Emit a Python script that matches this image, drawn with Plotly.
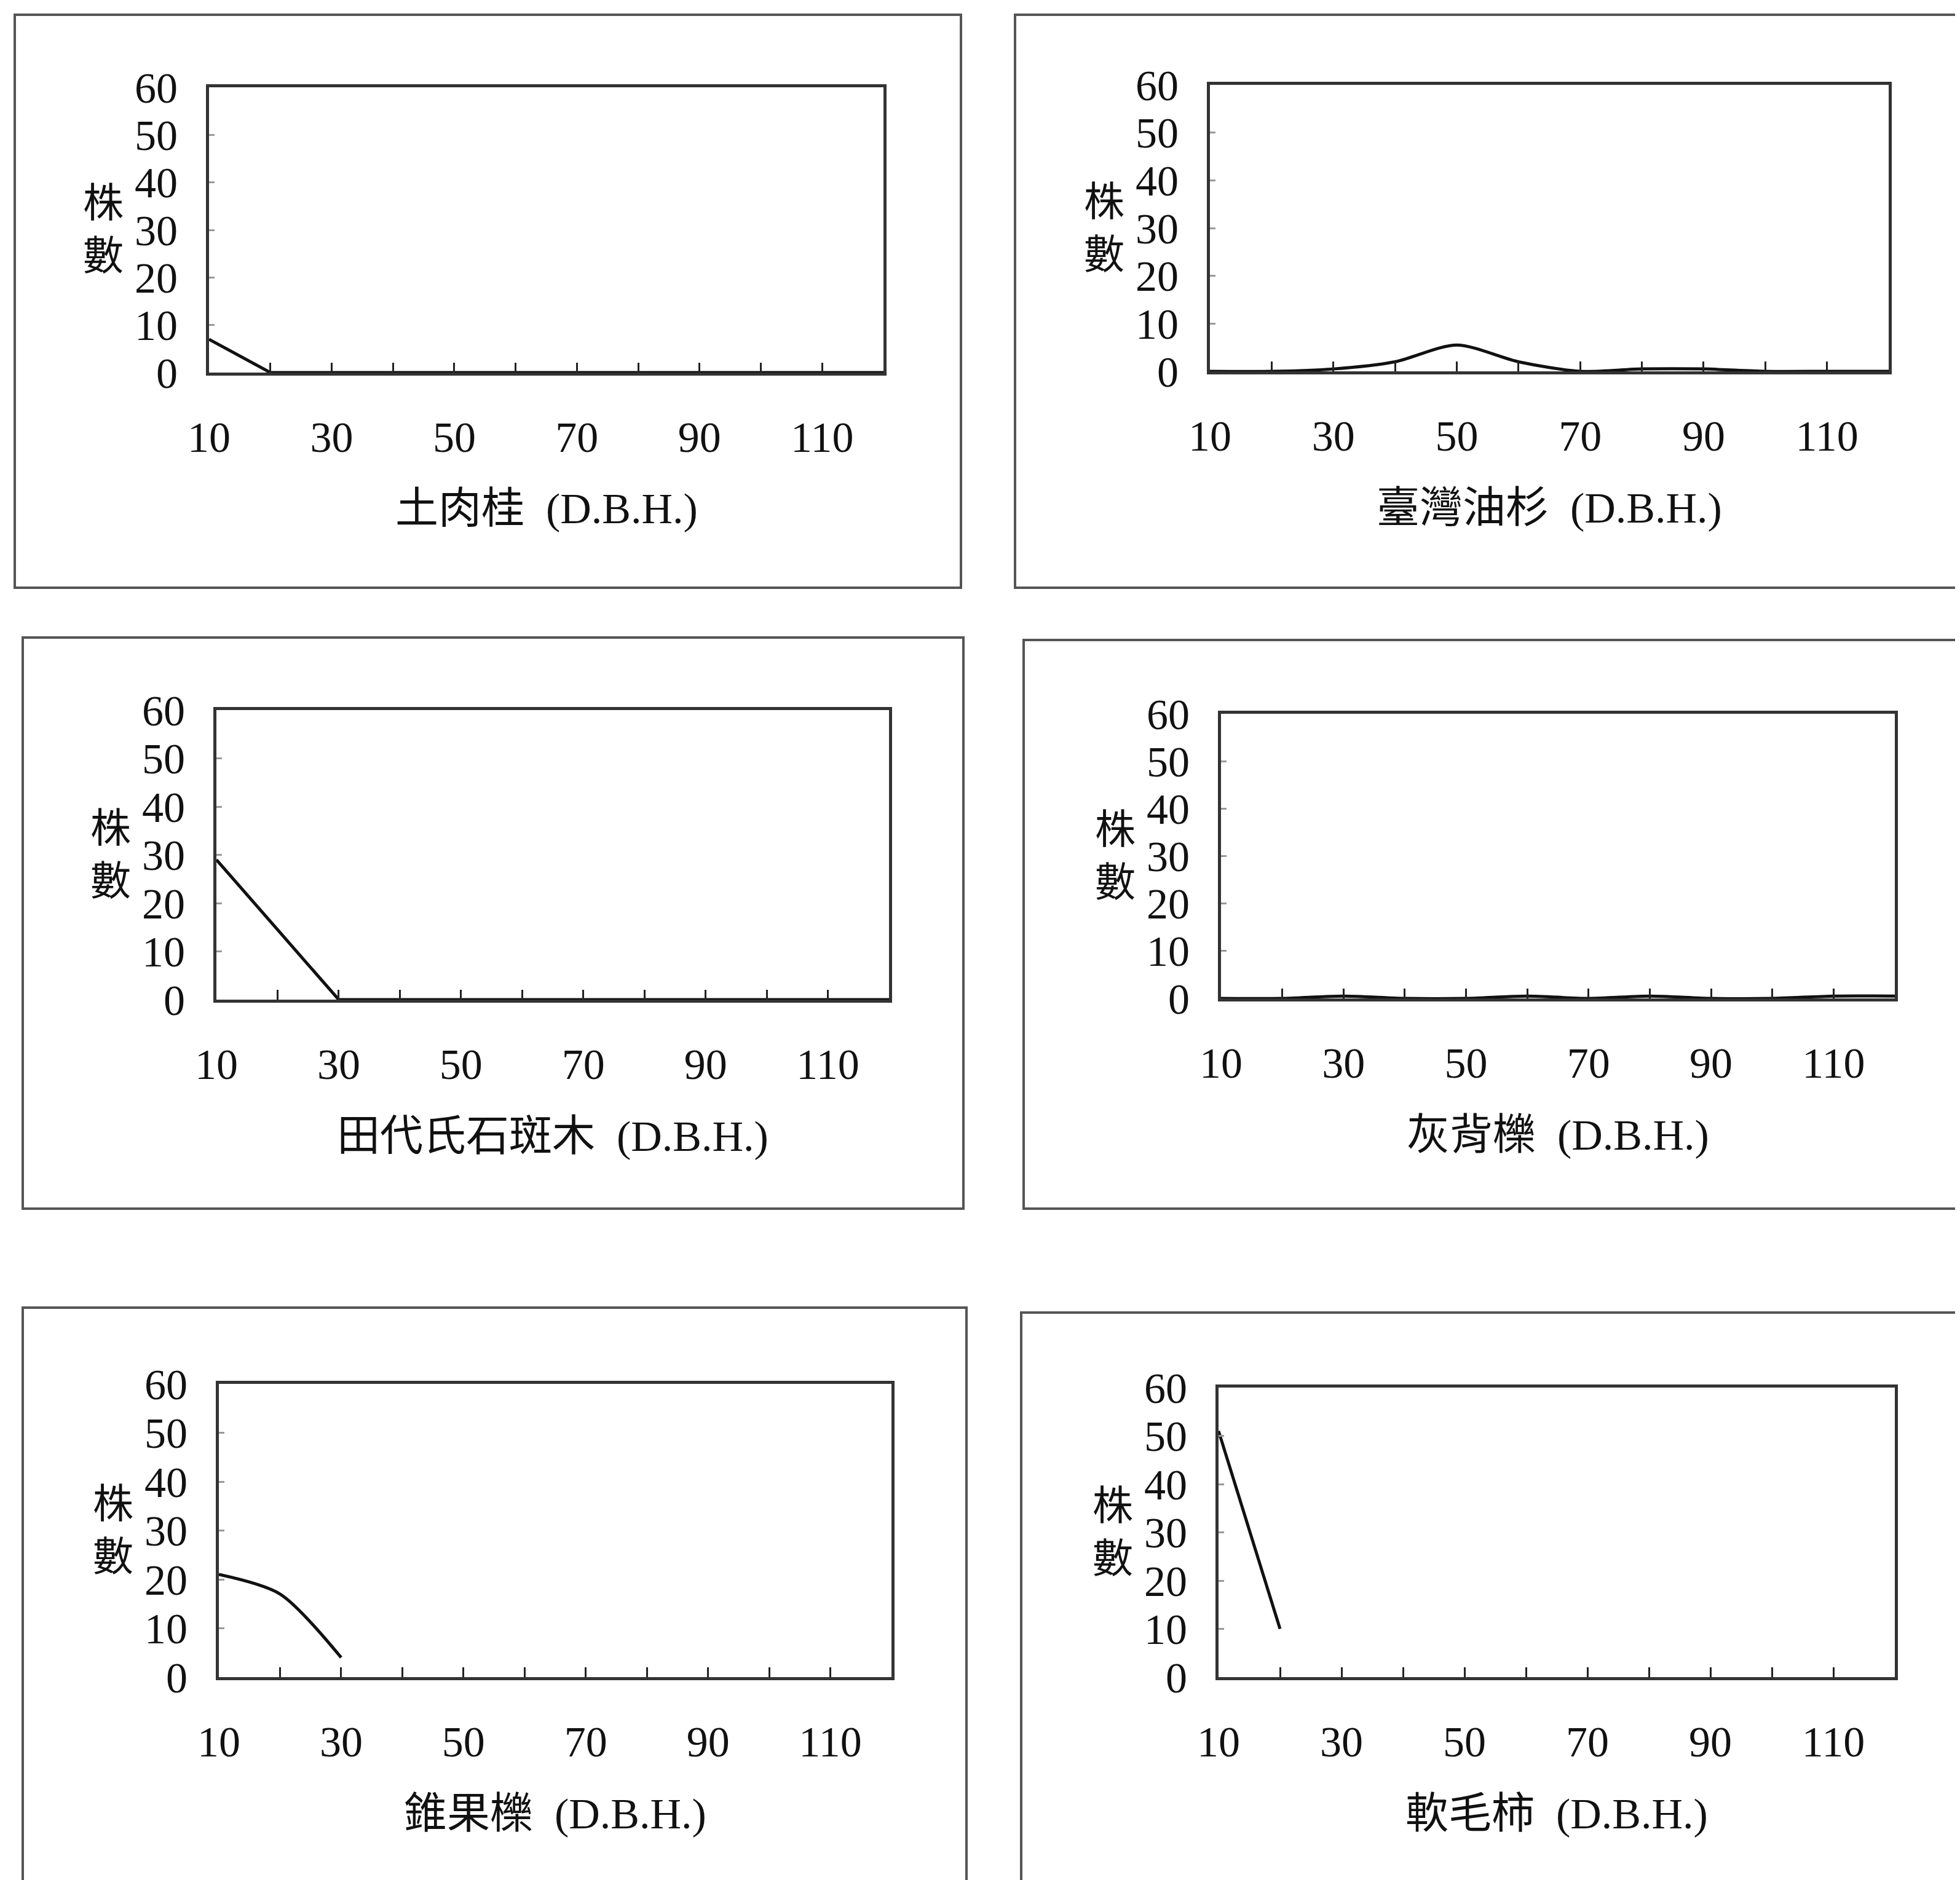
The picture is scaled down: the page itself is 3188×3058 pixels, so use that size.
import plotly.graph_objects as go

W, H = 3188, 3058
OFF = 8  # page body margin in px

# ---- data ----
dbh_classes = [10, 20, 30, 40, 50, 60, 70, 80, 90, 100, 110, 120]
x_tick_vals = [10, 20, 30, 40, 50, 60, 70, 80, 90, 100, 110]
x_tick_text = ["10", "", "30", "", "50", "", "70", "", "90", "", "110"]
y_tick_vals = [0, 10, 20, 30, 40, 50, 60]

species = ["土肉桂", "臺灣油杉", "田代氏石斑木", "灰背櫟", "錐果櫟", "軟毛柿"]
counts_tulougui = [7, 0, 0, 0, 0, 0, 0, 0, 0, 0, 0, 0]
counts_youshan = [0, 0, 0.5, 2, 5.5, 2, 0, 0.5, 0.5, 0, 0, 0]
counts_shibanmu = [29, 14.5, 0, 0, 0, 0, 0, 0, 0, 0, 0, 0]
counts_huibeili = [0, 0, 0.5, 0, 0, 0.5, 0, 0.5, 0, 0, 0.5, 0.5]
counts_zhuiguoli = [21, 17, 4]
counts_ruanmaoshi = [51, 10]
series = [counts_tulougui, counts_youshan, counts_shibanmu,
          counts_huibeili, counts_zhuiguoli, counts_ruanmaoshi]
line_shapes = ["linear", "spline", "linear", "spline", "spline", "linear"]
y_label = "株<br>數"
x_suffix = "(D.B.H.)"

# ---- layout (pixel boxes) ----
plot_boxes = [  # left, right, top, bottom in px
    (340, 1437, 142, 606),
    (1968, 3072, 138, 604),
    (352, 1446, 1155, 1626),
    (1986, 3082, 1161, 1624),
    (356, 1450, 2251, 2728),
    (1982, 3082, 2257, 2728),
]
frame_boxes = [
    (24, 1563, 24, 956),
    (1651, 3220, 24, 956),
    (37, 1567, 1037, 1966),
    (1665, 3220, 1041, 1966),
    (37, 1572, 2127, 3090),
    (1661, 3220, 2135, 3090),
]

FONT = "Liberation Serif, Noto Sans CJK TC, serif"

def px_x(v):
    return (v - OFF) / W

def px_y(v):
    return 1 - (v - OFF) / H

fig = go.Figure()
annotations = []
shapes = []

for i, (name, vals) in enumerate(zip(species, series)):
    n = i + 1
    xa = "x" if n == 1 else f"x{n}"
    ya = "y" if n == 1 else f"y{n}"
    fig.add_trace(go.Scatter(
        x=dbh_classes[:len(vals)], y=vals,
        mode="lines",
        line=dict(color="#111111", width=5, shape=line_shapes[i], smoothing=0.8),
        xaxis=xa, yaxis=ya, showlegend=False, cliponaxis=True,
    ))
    l, r, t, b = plot_boxes[i]
    xkey = "xaxis" if n == 1 else f"xaxis{n}"
    ykey = "yaxis" if n == 1 else f"yaxis{n}"
    fig.update_layout(**{
        xkey: dict(
            domain=[px_x(l), px_x(r)], anchor=ya, range=[10, 120],
            tickvals=x_tick_vals, ticktext=x_tick_text,
            ticks="inside", ticklen=16, tickwidth=3, tickcolor="#222222",
            showline=True, mirror=True, linewidth=5, linecolor="#333333",
            showgrid=False, zeroline=False, automargin=False,
            tickfont=dict(family=FONT, size=70, color="#111111"),
            ticklabelstandoff=40,
        ),
        ykey: dict(
            domain=[px_y(b), px_y(t)], anchor=xa, range=[0, 60],
            tickvals=y_tick_vals,
            ticks="inside", ticklen=9, tickwidth=3, tickcolor="#999999",
            showline=True, mirror=True, linewidth=5, linecolor="#333333",
            showgrid=False, zeroline=False, automargin=False,
            tickfont=dict(family=FONT, size=70, color="#111111"),
            ticklabelstandoff=32,
        ),
    })
    # x title
    annotations.append(dict(
        xref="paper", yref="paper",
        x=px_x((l + r) / 2), y=px_y(b + 222),
        text=f"{name}  {x_suffix}", showarrow=False,
        xanchor="center", yanchor="middle",
        font=dict(family=FONT, size=70, color="#111111"),
    ))
    # y title
    annotations.append(dict(
        xref="paper", yref="paper",
        x=px_x(l - 172), y=px_y((t + b) / 2),
        text=y_label, showarrow=False,
        xanchor="center", yanchor="middle",
        font=dict(family=FONT, size=66, color="#111111"),
    ))
    fl, fr, ft, fb = frame_boxes[i]
    shapes.append(dict(
        type="rect", xref="paper", yref="paper",
        x0=px_x(fl), x1=px_x(fr), y0=px_y(fb), y1=px_y(ft),
        line=dict(color="#555555", width=4), fillcolor="rgba(0,0,0,0)",
        layer="below",
    ))

fig.update_layout(
    width=W, height=H,
    margin=dict(l=0, r=0, t=0, b=0, pad=0, autoexpand=False),
    paper_bgcolor="white", plot_bgcolor="white",
    annotations=annotations, shapes=shapes,
    showlegend=False,
)

fig.write_html("out.html")
